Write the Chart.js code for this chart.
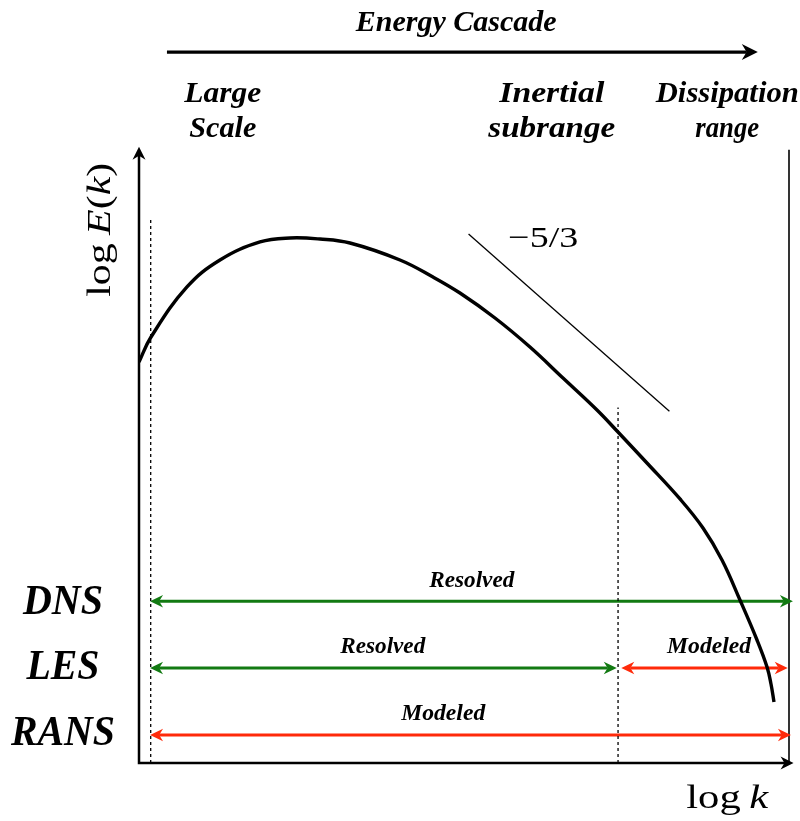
<!DOCTYPE html>
<html>
<head>
<meta charset="utf-8">
<script src="https://cdn.jsdelivr.net/npm/chart.js@4/dist/chart.umd.min.js"></script>
<style>
  html, body { margin: 0; padding: 0; background: #fff; }
  #wrap { width: 800px; height: 821px; position: relative; }
</style>
</head>
<body>
<div id="wrap"><canvas id="spectrum"></canvas></div>
<script>
// Energy spectrum E(k) in log-log coordinates (schematic units 0..10)
const logK = [0.000, 0.185, 0.738, 1.246, 1.862, 2.323, 2.785, 3.246, 4.015, 4.523, 4.938, 5.477, 6.015, 6.523, 7.046, 7.369, 7.815, 8.323, 8.677, 8.969, 9.246, 9.508, 9.662, 9.723, 9.769];
const logE = [6.520, 6.927, 7.740, 8.179, 8.472, 8.537, 8.520, 8.455, 8.179, 7.902, 7.642, 7.236, 6.764, 6.260, 5.740, 5.382, 4.878, 4.293, 3.821, 3.301, 2.650, 2.000, 1.561, 1.285, 0.992];

// Kolmogorov -5/3 reference slope segment
const slopeK = [5.07, 8.16];
const slopeE = [8.60, 5.72];
const slopeLabel = '\u22125/3';

// Cut-off wavenumbers (large-scale limit, LES filter) and top of their markers
const cutoffK = [0.18, 7.37];
const cutoffTop = [8.86, 5.78];

// Turbulence modelling approaches and the ranges each one resolves / models
const models = ['DNS', 'LES', 'RANS'];
const ranges = [
  [{ from: 0.17, to: 10.06, kind: 'Resolved' }],
  [{ from: 0.17, to: 7.35, kind: 'Resolved' }, { from: 7.42, to: 9.98, kind: 'Modeled' }],
  [{ from: 0.17, to: 10.03, kind: 'Modeled' }]
];

// Spectral regions along the cascade
const regions = [['Large', 'Scale'], ['Inertial', 'subrange'], ['Dissipation', 'range']];
const cascadeTitle = 'Energy Cascade';

// ---- layout (data coordinates) ----
const rowY = [2.63, 1.545, 0.455];
const rowLabelBase = [2.42, 1.36, 0.30];
const rowLabel = { x: -1.17, widths: [80, 73, 104] };
const rangeLabelBase = [2.86, 1.79, 0.70];
const rangeLabelX = [[5.12], [3.75, 8.77], [4.68]];
const regionX = [1.29, 6.35, 9.05];
const regionWidths = [[77, 67], [105, 127], [143, 64]];
const colors = { Resolved: '#127a12', Modeled: '#ff2a0a' };

const SERIF = '"Liberation Serif", "Times New Roman", serif';

function fitText(ctx, text, cx, baseY, width, font) {
  ctx.save();
  ctx.font = font;
  const m = ctx.measureText(text).width;
  ctx.translate(cx, baseY);
  ctx.scale(width / m, 1);
  ctx.textAlign = 'center';
  ctx.textBaseline = 'alphabetic';
  ctx.fillStyle = '#000';
  ctx.fillText(text, 0, 0);
  ctx.restore();
}

// stealth-style arrow head; (ux,uy) is the unit direction of the arrow
function head(ctx, tx, ty, ux, uy, len, half, color) {
  const bx = tx - ux * len, by = ty - uy * len;
  const nx = -uy, ny = ux;
  ctx.beginPath();
  ctx.moveTo(tx, ty);
  ctx.lineTo(bx + nx * half, by + ny * half);
  ctx.lineTo(tx - ux * len * 0.7, ty - uy * len * 0.7);
  ctx.lineTo(bx - nx * half, by - ny * half);
  ctx.closePath();
  ctx.fillStyle = color;
  ctx.fill();
}

const diagram = {
  id: 'diagram',
  beforeDatasetsDraw(chart) {
    const { ctx, scales: { x, y } } = chart;
    ctx.save();
    ctx.lineCap = 'butt';
    // axes
    const x0 = x.getPixelForValue(0), y0 = y.getPixelForValue(0);
    const yTop = y.getPixelForValue(10.02), xEnd = x.getPixelForValue(10.07);
    ctx.strokeStyle = '#000';
    ctx.lineWidth = 2.5;
    ctx.beginPath();
    ctx.moveTo(x0, y0 + 1.2); ctx.lineTo(x0, yTop + 8);
    ctx.moveTo(x0 - 1.2, y0); ctx.lineTo(xEnd - 8, y0);
    ctx.stroke();
    head(ctx, x0, yTop, 0, -1, 13, 6.5, '#000');
    head(ctx, xEnd, y0, 1, 0, 13, 6.5, '#000');
    // right frame line
    const xr = x.getPixelForValue(10);
    ctx.lineWidth = 1.6;
    ctx.beginPath();
    ctx.moveTo(xr, y.getPixelForValue(9.97)); ctx.lineTo(xr, y0);
    ctx.stroke();

    // model ranges
    ranges.forEach((segs, i) => {
      const py = y.getPixelForValue(rowY[i]);
      segs.forEach(s => {
        const c = colors[s.kind];
        const a = x.getPixelForValue(s.from), b = x.getPixelForValue(s.to);
        ctx.strokeStyle = c;
        ctx.lineWidth = 3;
        ctx.beginPath();
        ctx.moveTo(a + 9, py); ctx.lineTo(b - 9, py);
        ctx.stroke();
        head(ctx, a, py, -1, 0, 13, 6.2, c);
        head(ctx, b, py, 1, 0, 13, 6.2, c);
      });
    });

    // energy cascade arrow
    const cy = y.getPixelForValue(11.56);
    const ca = x.getPixelForValue(0.43), cb = x.getPixelForValue(9.52);
    ctx.strokeStyle = '#000';
    ctx.lineWidth = 3.2;
    ctx.beginPath();
    ctx.moveTo(ca, cy); ctx.lineTo(cb - 11, cy);
    ctx.stroke();
    head(ctx, cb, cy, 1, 0, 16, 8, '#000');
    ctx.restore();
  },
  afterDraw(chart) {
    const { ctx, scales: { x, y } } = chart;
    const bi = s => `bold italic ${s}px ${SERIF}`;
    fitText(ctx, cascadeTitle, x.getPixelForValue(4.88), y.getPixelForValue(11.90), 201, bi(30));
    regions.forEach((lines, i) => {
      fitText(ctx, lines[0], x.getPixelForValue(regionX[i]), y.getPixelForValue(10.74), regionWidths[i][0], bi(30));
      fitText(ctx, lines[1], x.getPixelForValue(regionX[i]), y.getPixelForValue(10.18), regionWidths[i][1], bi(30));
    });
    models.forEach((m, i) => {
      fitText(ctx, m, x.getPixelForValue(rowLabel.x), y.getPixelForValue(rowLabelBase[i]), rowLabel.widths[i], bi(42));
      ranges[i].forEach((s, j) => {
        fitText(ctx, s.kind, x.getPixelForValue(rangeLabelX[i][j]), y.getPixelForValue(rangeLabelBase[i]), s.kind === 'Resolved' ? 85 : 84, bi(24));
      });
    });
    // slope label
    fitText(ctx, slopeLabel, x.getPixelForValue(6.22), y.getPixelForValue(8.39), 70, `30px ${SERIF}`);
    // x-axis title: log k
    drawMath(ctx, [['log', false], ['\u2009', false], ['k', true]], x.getPixelForValue(9.05), y.getPixelForValue(-0.73), 82, 34, 0);
    // y-axis title: log E(k)
    drawMath(ctx, [['log', false], ['\u2009', false], ['E', true], ['(', false], ['k', true], [')', false]], x.getPixelForValue(-0.45), y.getPixelForValue(8.67), 134, 34, -Math.PI / 2);
  }
};

function drawMath(ctx, parts, cx, cy, width, size, rot) {
  ctx.save();
  const fonts = parts.map(p => (p[1] ? 'italic ' : '') + size + 'px ' + SERIF);
  let total = 0;
  const ws = parts.map((p, i) => { ctx.font = fonts[i]; const w = ctx.measureText(p[0]).width; total += w; return w; });
  ctx.translate(cx, cy);
  ctx.rotate(rot);
  ctx.scale(width / total, 1);
  ctx.fillStyle = '#000';
  ctx.textBaseline = 'alphabetic';
  ctx.textAlign = 'left';
  let pos = -total / 2;
  parts.forEach((p, i) => { ctx.font = fonts[i]; ctx.fillText(p[0], pos, 0); pos += ws[i]; });
  ctx.restore();
}

const pts = (xs, ys) => xs.map((v, i) => ({ x: v, y: ys[i] }));

new Chart(document.getElementById('spectrum'), {
  type: 'scatter',
  data: {
    datasets: [
      { data: pts(logK, logE), showLine: true, borderColor: '#000', borderWidth: 3.4, pointRadius: 0, tension: 0.4, borderCapStyle: 'butt', order: 1 },
      { data: pts(slopeK, slopeE), showLine: true, borderColor: '#000', borderWidth: 1.3, pointRadius: 0, order: 2 },
      ...cutoffK.map((k, i) => ({
        data: [{ x: k, y: 0 }, { x: k, y: cutoffTop[i] }], showLine: true, borderColor: '#000',
        borderWidth: 1.3, borderDash: [3, 3], pointRadius: 0, order: 3
      }))
    ]
  },
  options: {
    responsive: true,
    maintainAspectRatio: false,
    animation: false,
    layout: { padding: { left: 139, right: 11, top: 148, bottom: 58 } },
    scales: {
      x: { type: 'linear', min: 0, max: 10, display: false },
      y: { type: 'linear', min: 0, max: 10, display: false }
    },
    plugins: { legend: { display: false }, tooltip: { enabled: false } }
  },
  plugins: [diagram]
});
</script>
</body>
</html>
